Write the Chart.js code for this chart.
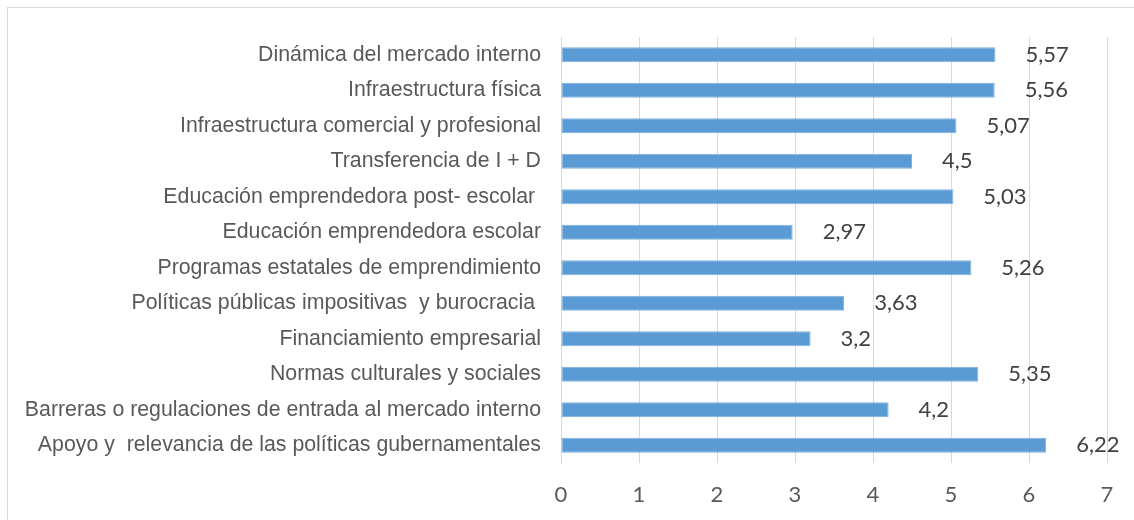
<!DOCTYPE html>
<html lang="es">
<head>
    <meta charset="UTF-8">
    <title>Condiciones del entorno emprendedor</title>
    <script src="https://cdn.jsdelivr.net/npm/chart.js"></script>
    <style>
        body {
            margin: 0;
            background: #fff;
            overflow: hidden;
        }
        .frame {
            position: absolute;
            left: 7px;
            top: 7px;
            width: 1140px;
            height: 530px;
            border: 1px solid #d9d9d9;
        }
        .chart-container {
            position: absolute;
            left: 0;
            top: 0;
            width: 1134px;
            height: 520px;
        }
    </style>
</head>
<body>
    <div class="frame"></div>
    <div class="chart-container">
        <canvas id="chart" width="1134" height="520"></canvas>
    </div>

    <script>
        // Categories, top to bottom as in the picture
        const categories = [
            'Dinámica del mercado interno',
            'Infraestructura física',
            'Infraestructura comercial y profesional',
            'Transferencia de I + D',
            'Educación emprendedora post- escolar ',
            'Educación emprendedora escolar',
            'Programas estatales de emprendimiento',
            'Políticas públicas impositivas  y burocracia ',
            'Financiamiento empresarial',
            'Normas culturales y sociales',
            'Barreras o regulaciones de entrada al mercado interno',
            'Apoyo y  relevancia de las políticas gubernamentales'
        ];
        const scores = [5.57, 5.56, 5.07, 4.5, 5.03, 2.97, 5.26, 3.63, 3.2, 5.35, 4.2, 6.22];
        const xTicks = [0, 1, 2, 3, 4, 5, 6, 7];

        // Value labels at the end of each bar (decimal comma)
        const valueLabels = {
            id: 'valueLabels',
            afterDatasetsDraw(chart) {
                const ctx = chart.ctx;
                const meta = chart.getDatasetMeta(0);
                ctx.save();
                ctx.font = '22px Lato';
                ctx.fillStyle = '#404040';
                ctx.textAlign = 'left';
                ctx.textBaseline = 'middle';
                meta.data.forEach((bar, i) => {
                    const txt = String(scores[i]).replace('.', ',');
                    ctx.fillText(txt, bar.x + 30, bar.y);
                });
                ctx.restore();
            }
        };

        const ctx = document.getElementById('chart').getContext('2d');
        new Chart(ctx, {
            type: 'bar',
            data: {
                labels: categories,
                datasets: [{
                    data: scores,
                    backgroundColor: '#5b9bd5',
                    borderColor: '#7fb1de',
                    borderWidth: 1,
                    borderSkipped: false,
                    barPercentage: 0.42,
                    categoryPercentage: 1
                }]
            },
            options: {
                indexAxis: 'y',
                responsive: false,
                animation: false,
                devicePixelRatio: 1,
                layout: {
                    padding: { top: 37, right: 27, bottom: 0, left: 0 }
                },
                plugins: {
                    legend: { display: false },
                    tooltip: { enabled: false }
                },
                scales: {
                    x: {
                        min: 0,
                        max: 7,
                        afterBuildTicks: function(scale) {
                            scale.ticks = xTicks.map(v => ({ value: v }));
                        },
                        afterFit: function(scale) {
                            scale.height = 57;
                        },
                        grid: {
                            color: '#d9d9d9',
                            lineWidth: 1,
                            drawTicks: false
                        },
                        border: { display: false },
                        ticks: {
                            color: '#595959',
                            font: { family: 'Lato', size: 22 },
                            padding: 19
                        }
                    },
                    y: {
                        afterFit: function(scale) {
                            scale.width = 561;
                        },
                        grid: { display: false, drawTicks: false },
                        border: { display: true, color: '#d9d9d9', width: 1 },
                        ticks: {
                            color: '#595959',
                            font: { family: 'Liberation Sans', size: 21.3 },
                            padding: 20
                        }
                    }
                }
            },
            plugins: [valueLabels]
        });
    </script>
</body>
</html>
